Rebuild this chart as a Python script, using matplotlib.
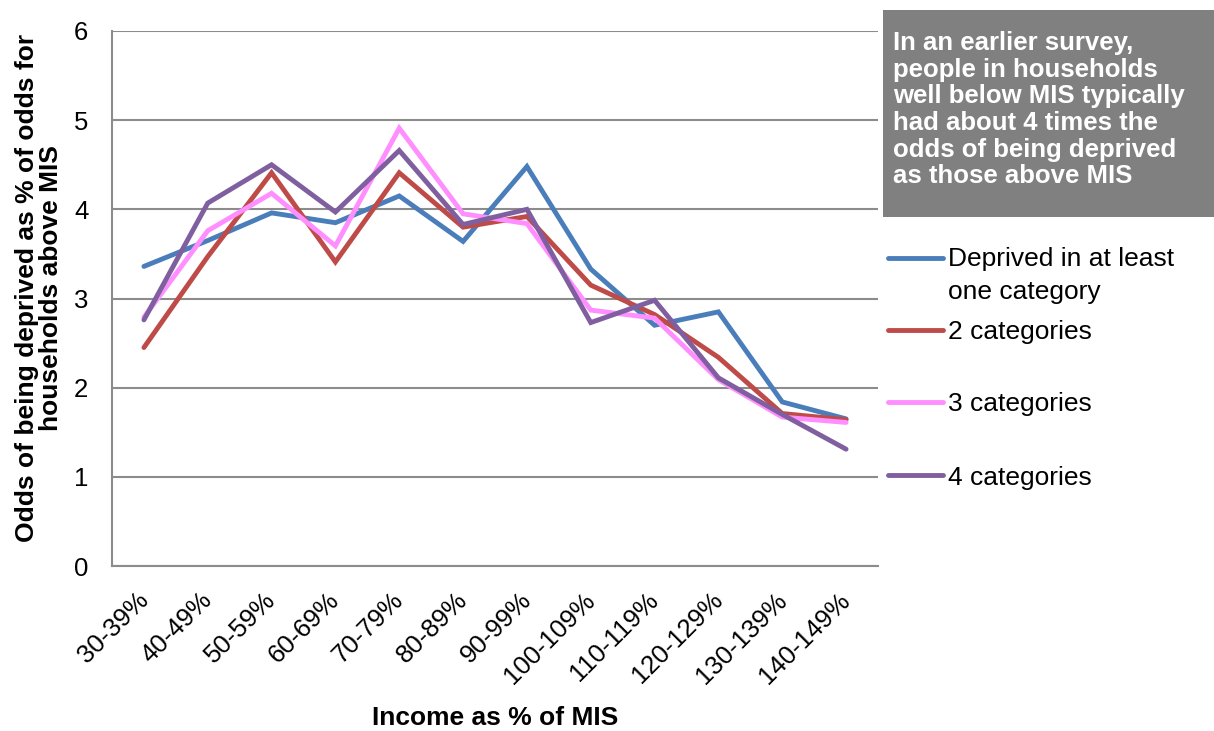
import matplotlib.pyplot as plt
import matplotlib.transforms as mtransforms
from matplotlib.lines import Line2D
from matplotlib.patches import Rectangle

plt.rcParams['font.family'] = ['Liberation Sans', 'DejaVu Sans']

# Income bands (x categories)
categories = ['30-39%', '40-49%', '50-59%', '60-69%', '70-79%', '80-89%',
              '90-99%', '100-109%', '110-119%', '120-129%', '130-139%', '140-149%']

# Odds of being deprived, relative to households above MIS
one_plus = [3.36, 3.65, 3.96, 3.85, 4.15, 3.64, 4.48, 3.33, 2.70, 2.85, 1.84, 1.65]
two_cats = [2.45, 3.47, 4.41, 3.41, 4.41, 3.80, 3.92, 3.15, 2.82, 2.34, 1.71, 1.64]
three_cats = [2.79, 3.76, 4.18, 3.59, 4.91, 3.95, 3.84, 2.87, 2.78, 2.09, 1.67, 1.61]
four_cats = [2.76, 4.07, 4.50, 3.97, 4.66, 3.83, 4.00, 2.73, 2.98, 2.11, 1.70, 1.31]

series_labels = ['Deprived in at least\none category', '2 categories',
                 '3 categories', '4 categories']
series = [one_plus, two_cats, three_cats, four_cats]
colors = ['#4A7EBB', '#BE4B48', '#FF8EFF', '#7F5F9F']

note = ('In an earlier survey,\npeople in households\nwell below MIS typically\n'
        'had about 4 times the\nodds of being deprived\nas those above MIS')

W, H = 1214, 731
fig = plt.figure(figsize=(W / 100, H / 100), dpi=100)
ax = fig.add_axes([112 / W, 1 - 566 / H, 766 / W, 535 / H])

x = list(range(len(categories)))
for vals, col in zip(series, colors):
    ax.plot(x, vals, color=col, lw=3.5, solid_capstyle='round', solid_joinstyle='miter')

ax.set_xlim(-0.5, len(categories) - 0.5)
ax.set_ylim(0, 6)
ax.set_yticks(range(0, 7))
ax.set_xticks(x)
ax.set_xticklabels(categories, rotation=45, ha='right', rotation_mode='anchor', fontsize=18.5)
ax.tick_params(axis='x', length=0, pad=13)
ax.tick_params(axis='y', length=0, pad=17, labelsize=18.5)
shift = mtransforms.ScaledTranslation(-8 / 100, -4 / 100, fig.dpi_scale_trans)
for lbl in ax.get_xticklabels():
    lbl.set_transform(lbl.get_transform() + shift)
ax.grid(axis='y', color='#8c8c8c', lw=1.5)
ax.set_axisbelow(True)
for s in ['top', 'right']:
    ax.spines[s].set_visible(False)
for s in ['left', 'bottom']:
    ax.spines[s].set_color('#8c8c8c')
    ax.spines[s].set_linewidth(1.5)

ax.set_ylabel('Odds of being deprived as % of odds for\nhouseholds above MIS',
              fontsize=19, fontweight='bold', linespacing=0.98)
ax.yaxis.set_label_coords((63 - 112) / 766, 0.52)
ax.set_xlabel('Income as % of MIS', fontsize=19, fontweight='bold')
ax.xaxis.set_label_coords(0.5, (566 - 706) / 535)

# grey note box
fig.add_artist(Rectangle((883 / W, 1 - 217 / H), (W - 883) / W, 207 / H,
                         transform=fig.transFigure, facecolor='#808080', edgecolor='none'))
fig.text(893 / W, 1 - 31 / H, note, color='white', fontsize=18.5, fontweight='bold',
         va='top', ha='left', linespacing=1.14)

# legend drawn to match the original spacing
legend_y = [258, 330, 402, 475]
line_step = 32
for lab, col, yy in zip(series_labels, colors, legend_y):
    fig.add_artist(Line2D([888 / W, 943 / W], [1 - yy / H, 1 - yy / H],
                          transform=fig.transFigure, color=col, lw=3.5,
                          solid_capstyle='round'))
    extra = (lab.count('\n')) * line_step
    fig.text(948 / W, 1 - (yy + 9.5 + extra) / H, lab, fontsize=19, va='baseline',
             ha='left', linespacing=1.49)

fig.savefig('out.png', dpi=100)
